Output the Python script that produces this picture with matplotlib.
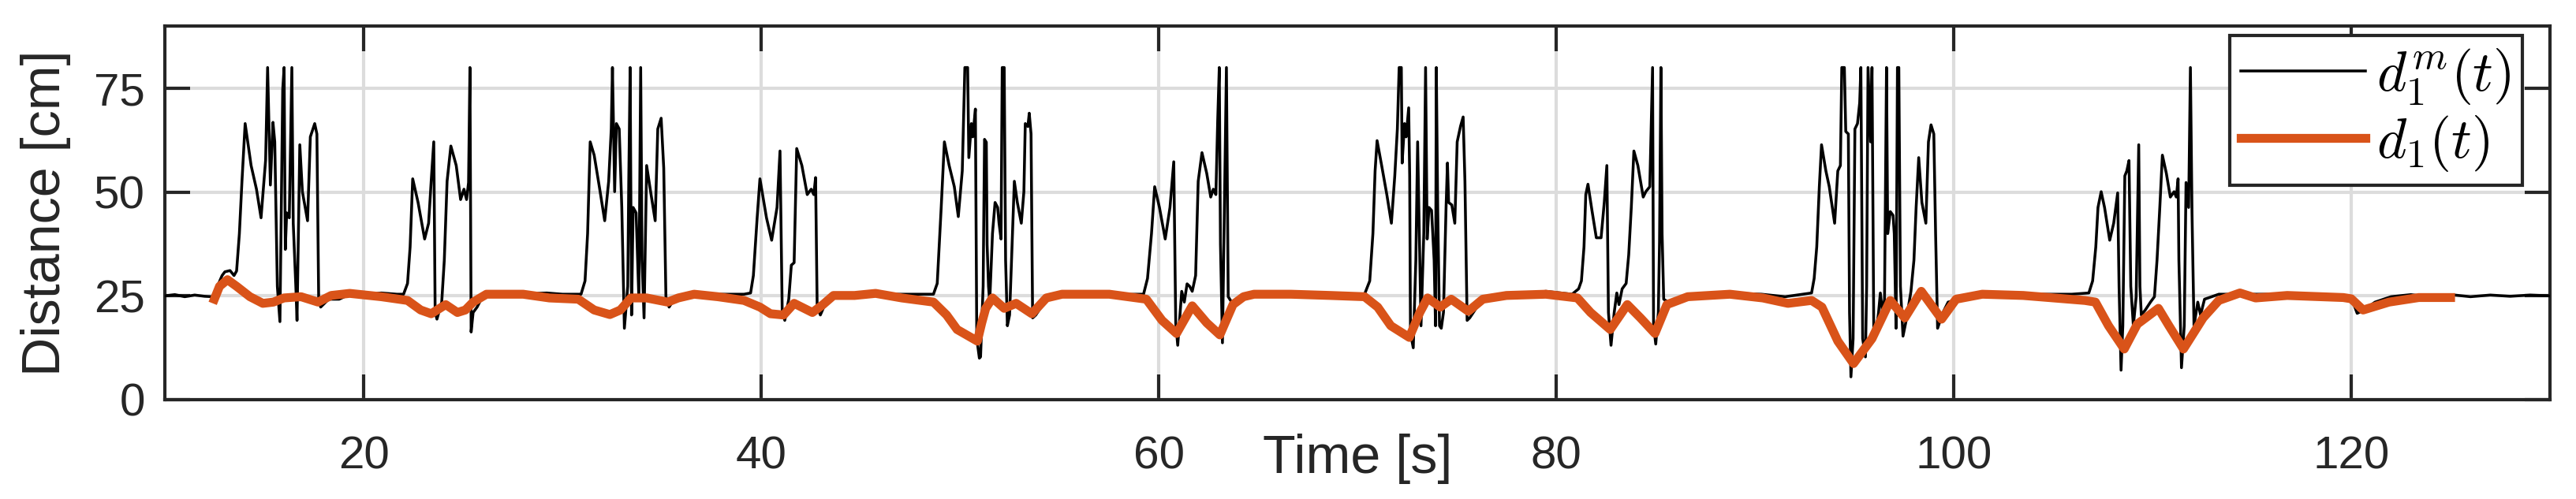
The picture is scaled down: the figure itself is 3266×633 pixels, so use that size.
import matplotlib
matplotlib.use("Agg")
import matplotlib.pyplot as plt

t_meas = [
    10.0, 10.5, 11.0, 11.5, 12.0, 12.42, 12.88, 13.02, 13.28, 13.48, 13.61,
    13.75, 13.88, 14.04, 14.34, 14.61, 14.84, 15.07, 15.17, 15.31, 15.44,
    15.53, 15.66, 15.79, 15.89, 15.93, 16.0, 16.06, 16.13, 16.26, 16.39,
    16.46, 16.59, 16.65, 16.79, 16.92, 17.18, 17.32, 17.54, 17.65, 17.74,
    17.84, 18.24, 18.77, 19.3, 20.1, 20.89, 21.68, 22.01,
    22.21, 22.34, 22.47, 22.74, 23.07, 23.27, 23.4, 23.53, 23.6, 23.69,
    23.93, 24.06, 24.2, 24.39, 24.66, 24.88, 25.05, 25.18, 25.28, 25.35,
    25.41, 25.51, 25.71, 26.04, 27.37, 29.22, 30.01, 30.94,
    31.14, 31.27, 31.4, 31.6, 31.86, 32.13, 32.33, 32.46, 32.52, 32.63,
    32.72, 32.86, 32.99, 33.12, 33.29, 33.34, 33.41, 33.48, 33.56, 33.71,
    33.85, 33.94, 34.01, 34.11, 34.24, 34.44, 34.67, 34.8, 34.97, 35.1,
    35.21, 35.37, 35.7, 36.62, 37.95,
    39.14, 39.47, 39.61, 39.8, 39.94, 40.27, 40.53, 40.8, 40.95, 41.06,
    41.19, 41.39, 41.52, 41.66, 41.79, 42.05, 42.32, 42.52, 42.65, 42.74,
    42.82, 42.98, 43.38, 44.43, 47.08, 48.67,
    48.86, 49.06, 49.22, 49.46, 49.72, 49.92, 50.12, 50.25, 50.39, 50.45,
    50.58, 50.65, 50.78, 50.85, 50.98, 51.04, 51.17, 51.24, 51.33, 51.37,
    51.44, 51.5, 51.64, 51.77, 51.9, 51.97, 52.07, 52.13, 52.23, 52.3,
    52.39, 52.5, 52.6, 52.74, 52.89, 53.09, 53.22, 53.29, 53.42, 53.49,
    53.58, 53.66, 53.82, 54.35, 54.88, 58.85, 59.24,
    59.44, 59.64, 59.8, 60.04, 60.33, 60.57, 60.76, 60.86, 60.96, 61.16,
    61.29, 61.43, 61.56, 61.69, 61.86, 61.99, 62.18, 62.42, 62.62, 62.75,
    62.88, 62.97, 63.05, 63.11, 63.21, 63.41, 63.5, 63.67, 64.14,
    64.8, 69.3, 70.36,
    70.62, 70.78, 70.89, 70.99, 71.22, 71.48, 71.71, 71.88, 72.01, 72.1,
    72.21, 72.25, 72.37, 72.45, 72.58, 72.63, 72.67, 72.81, 72.94, 73.03,
    73.14, 73.2, 73.34, 73.43, 73.51, 73.6, 73.73, 73.86, 73.93, 73.97,
    74.04, 74.13, 74.22, 74.33, 74.46, 74.53, 74.59, 74.75, 74.9, 75.02,
    75.19, 75.32, 75.41, 75.52, 75.65, 76.18, 77.24,
    79.48, 80.8, 81.13, 81.27, 81.4, 81.49, 81.6, 81.8, 82.02, 82.26,
    82.42, 82.55, 82.63, 82.76, 82.92, 83.05, 83.16, 83.32, 83.52, 83.65,
    83.78, 83.91, 84.11, 84.38, 84.51, 84.71, 84.77, 84.85, 84.9, 85.01,
    85.14, 85.2, 85.27, 85.33, 85.41, 85.83, 86.62, 88.34, 90.33,
    91.52, 92.85, 92.98, 93.11, 93.24, 93.35, 93.57, 93.74, 94.01, 94.17,
    94.3, 94.37, 94.5, 94.57, 94.7, 94.76, 94.83, 94.94, 95.03, 95.16,
    95.27, 95.33, 95.42, 95.56, 95.62, 95.69, 95.82, 95.89, 95.98, 96.09,
    96.22, 96.31, 96.42, 96.52, 96.62, 96.68, 96.81, 96.95, 97.01, 97.1,
    97.17, 97.24, 97.32, 97.45, 97.61, 97.85, 98.0, 98.11, 98.24, 98.4,
    98.6, 98.73, 98.86, 99.0, 99.09, 99.19, 99.46, 99.72, 100.78, 102.1,
    103.29, 105.94, 106.8, 106.99, 107.15, 107.26, 107.42, 107.59, 107.85,
    108.05, 108.25, 108.32, 108.42, 108.51, 108.61, 108.71, 108.82, 108.91,
    109.04, 109.18, 109.31, 109.37, 109.44, 109.64, 109.9, 110.1, 110.23,
    110.37, 110.5, 110.7, 110.9, 111.09, 111.2, 111.29, 111.33, 111.46,
    111.6, 111.69, 111.82, 111.91, 111.99, 112.09, 112.28, 112.42, 112.62,
    113.34, 114.53, 116.52,
    118.0, 119.5, 120.0, 120.3, 120.6, 121.2, 122.0, 123.0, 124.0, 125.0,
    126.0, 127.0, 128.0, 129.0, 130.0,
]
d_meas = [
    25.0, 25.3, 24.8, 25.2, 24.9, 24.8, 29.9, 30.8, 31.1, 29.9, 31.0,
    40.0, 52.6, 66.5, 56.4, 50.7, 43.8, 57.7, 80.0, 51.7, 66.8,
    62.1, 27.3, 18.8, 58.9, 74.7, 80.0, 36.2, 45.0, 43.8, 80.0,
    42.5, 27.3, 19.1, 61.4, 50.1, 43.1, 63.3, 66.5, 64.0, 24.2,
    22.3, 24.2, 24.2, 25.4, 25.4, 25.7, 25.4, 25.4,
    28.0, 36.8, 53.2, 47.5, 38.7, 42.5, 52.6, 62.1, 21.0, 19.4,
    23.5, 33.6, 52.6, 61.1, 56.4, 48.2, 50.7, 48.2, 52.3, 80.0,
    16.3, 21.0, 22.3, 25.4, 25.4, 25.7, 25.4, 25.4,
    28.6, 40.0, 62.1, 58.9, 51.3, 43.1, 52.6, 65.2, 80.0, 50.1,
    66.5, 65.2, 46.3, 17.2, 27.3, 52.6, 80.0, 20.4, 46.3, 45.0,
    24.2, 80.0, 33.6, 19.7, 56.4, 50.1, 43.1, 65.2, 67.8, 55.8,
    24.8, 22.3, 24.8, 25.4, 25.4,
    25.4, 25.7, 29.9, 43.8, 53.2, 43.8, 38.4, 46.3, 59.9, 21.6,
    19.1, 24.2, 32.4, 33.0, 60.5, 56.4, 49.4, 50.7, 49.4, 53.5,
    22.3, 20.4, 24.8, 25.4, 25.4, 25.4,
    28.0, 46.3, 62.1, 56.4, 51.3, 44.1, 55.1, 80.0, 80.0, 58.3,
    66.5, 63.3, 70.0, 14.7, 10.0, 10.3, 27.3, 62.7, 62.0, 37.4,
    27.3, 23.5, 40.0, 47.5, 46.3, 42.5, 38.7, 80.0, 80.0, 33.6,
    17.8, 20.4, 33.6, 52.6, 47.5, 42.5, 50.1, 66.5, 65.8, 69.0,
    64.0, 19.7, 20.4, 24.2, 24.8, 25.4, 25.4,
    29.2, 40.0, 51.3, 46.3, 38.7, 46.3, 57.3, 18.5, 13.1, 26.1,
    23.5, 27.9, 27.3, 26.1, 29.9, 52.6, 59.5, 54.5, 48.8, 50.7,
    49.4, 67.1, 80.0, 37.4, 13.7, 80.0, 24.8, 23.5, 24.8,
    25.4, 25.4, 25.4,
    28.6, 40.0, 55.1, 62.4, 56.4, 49.4, 42.5, 53.9, 65.2, 80.0,
    80.0, 57.0, 66.5, 63.3, 70.3, 53.9, 16.0, 12.5, 33.6, 62.1,
    33.6, 17.8, 40.0, 80.0, 38.7, 46.3, 45.6, 33.6, 17.8, 80.0,
    46.3, 17.8, 17.2, 21.0, 46.3, 57.0, 47.5, 46.9, 42.5, 62.1,
    65.9, 68.1, 52.6, 19.1, 19.7, 23.5, 24.8,
    26.1, 25.4, 26.7, 28.6, 36.8, 49.4, 51.9, 45.6, 39.0, 39.0,
    47.5, 56.4, 21.0, 13.1, 21.0, 25.7, 22.9, 26.7, 28.0, 34.9,
    46.3, 59.9, 56.4, 48.8, 50.1, 51.3, 64.0, 80.0, 17.8, 13.4,
    21.0, 38.0, 80.0, 39.9, 24.2, 22.9, 25.4, 25.7, 25.4,
    24.8, 25.7, 29.2, 36.8, 51.3, 61.4, 55.1, 51.3, 42.5, 55.1,
    56.4, 80.0, 80.0, 64.6, 64.0, 21.0, 5.5, 14.7, 65.2, 66.5,
    71.5, 80.0, 14.7, 10.3, 27.3, 80.0, 62.1, 80.0, 16.0, 16.0,
    21.0, 25.7, 21.0, 24.2, 80.0, 40.0, 45.3, 44.4, 40.0, 17.2,
    80.0, 80.0, 27.3, 15.3, 19.1, 26.1, 33.6, 46.3, 58.3, 47.5,
    42.5, 62.1, 66.2, 64.0, 40.0, 17.2, 21.0, 23.5, 24.8, 25.4,
    25.4, 25.4, 25.7, 28.6, 36.8, 46.3, 50.1, 46.3, 38.4,
    42.5, 49.8, 27.3, 7.1, 17.8, 53.9, 55.1, 57.6, 27.3,
    17.8, 24.8, 61.4, 27.3, 20.4, 21.6, 23.5, 24.8, 33.6,
    46.3, 58.9, 54.5, 48.8, 50.1, 48.8, 53.2, 33.6, 7.7,
    17.8, 52.3, 46.3, 80.0, 45.0, 17.8, 23.5, 20.4, 24.2,
    25.4, 25.4, 25.4,
    25.2, 25.0, 24.6, 20.8, 21.5, 23.5, 24.8, 25.3, 24.7, 25.3,
    24.8, 25.2, 24.9, 25.2, 25.0,
]

# estimated distance d_1(t) [cm]
t_est = [
    12.49, 12.75, 13.15, 13.61, 14.28, 14.93, 15.46, 15.99, 16.85, 17.71,
    18.37, 19.3, 20.89, 22.21, 22.87, 23.4, 24.13, 24.72, 25.12, 25.51,
    26.18, 28.03, 29.35, 30.8, 31.6, 32.39, 32.92, 33.45, 34.24, 35.3,
    35.83, 36.63, 37.82, 39.14, 39.94, 40.47, 41.13, 41.66, 42.58, 43.11,
    43.64, 44.7, 45.76, 47.08, 48.67, 49.33, 49.86, 50.88, 51.1, 51.3,
    51.64, 52.23, 52.83, 53.62, 54.35, 55.14, 57.52, 59.38, 60.17, 60.9,
    61.69, 62.42, 63.08, 63.74, 64.27, 64.8, 66.66, 68.64, 70.36, 71.02,
    71.68, 72.61, 73.14, 73.53, 74.17, 74.72, 75.58, 76.31, 77.5, 79.48,
    81.07, 81.73, 82.72, 83.58, 84.24, 84.97, 85.57, 86.62, 88.74, 90.4,
    91.66, 92.85, 93.37, 94.17, 94.96, 95.89, 96.81, 97.54, 98.37, 99.39,
    100.12, 101.44, 103.5, 106.6, 107.13, 107.79, 108.58, 109.24, 110.3,
    110.83, 111.56, 112.55, 113.34, 114.4, 115.19, 116.78, 119.6, 120.0,
    120.6, 121.9, 123.4, 125.0,
]
d_est = [
    24.2, 27.3, 28.9, 27.3, 24.8, 23.2, 23.5, 24.5, 24.8, 23.5,
    25.1, 25.6, 24.8, 23.9, 21.6, 20.7, 22.9, 21.0, 21.6, 23.5,
    25.4, 25.4, 24.5, 24.2, 21.6, 20.5, 21.6, 24.5, 24.5, 23.5,
    24.5, 25.4, 24.8, 23.9, 22.3, 20.7, 20.4, 23.2, 21.0, 22.9,
    25.1, 25.1, 25.6, 24.5, 23.5, 20.4, 16.9, 14.1, 18.5, 22.0,
    24.5, 22.0, 23.2, 20.7, 24.5, 25.4, 25.4, 24.2, 19.1, 15.95,
    22.6, 18.5, 15.6, 22.9, 24.8, 25.4, 25.4, 25.1, 24.8, 22.3,
    17.8, 15.0, 21.0, 24.5, 22.3, 24.2, 21.3, 24.2, 25.1, 25.4,
    24.5, 21.0, 16.9, 22.9, 19.7, 15.95, 22.9, 24.8, 25.4, 24.5,
    23.2, 23.9, 22.3, 14.1, 8.7, 14.7, 23.9, 19.7, 26.1, 19.4,
    24.2, 25.4, 25.1, 23.9, 23.5, 17.8, 12.2, 18.2, 22.0,
    17.8, 12.2, 19.7, 23.9, 25.7, 24.5, 25.1, 24.6, 24.3,
    21.6, 23.5, 24.6, 24.6,
]

x_ticks = [20, 40, 60, 80, 100, 120]
y_ticks = [0, 25, 50, 75]
labels = [r"$d_1^m(t)$", r"$d_1(t)$"]

dark = "#262626"
plt.rcParams["font.family"] = ["Liberation Sans", "DejaVu Sans"]
plt.rcParams["mathtext.fontset"] = "cm"

fig = plt.figure(figsize=(3266 / 300, 633 / 300), dpi=300)
ax = fig.add_axes([209 / 3266, 126 / 633, 3024 / 3266, 474 / 633])

ax.plot(t_meas, d_meas, color="black", lw=0.85, label=labels[0], zorder=3)
ax.plot(t_est, d_est, color="#D95319", lw=2.7, label=labels[1], zorder=4)

ax.set_xlim(10, 130)
ax.set_ylim(0, 90)
ax.set_xticks(x_ticks)
ax.set_yticks(y_ticks)
ax.grid(True, color="#dcdcdc", lw=1.0)
ax.set_axisbelow(True)

ax.tick_params(direction="in", length=7.7, width=1.0, colors=dark,
               labelsize=14, top=True, right=True)
ax.tick_params(axis="x", pad=11)
ax.tick_params(axis="y", pad=6)
for s in ax.spines.values():
    s.set_color(dark)
    s.set_linewidth(1.0)

ax.set_xlabel("Time [s]", fontsize=16.4, color=dark)
ax.xaxis.set_label_coords(0.5, -0.09)
ax.set_ylabel("Distance [cm]", fontsize=16.4, color=dark)
ax.yaxis.set_label_coords(-0.0393, 0.5)

leg = ax.legend(loc="upper right", bbox_to_anchor=(0.9884, 0.9747),
                borderaxespad=0, fontsize=17.2, handlelength=2.2,
                handletextpad=0.2, borderpad=0.2, labelspacing=0.12,
                fancybox=False, framealpha=1, edgecolor=dark)
leg.get_frame().set_linewidth(1.0)

fig.savefig("out.png", dpi=300, facecolor="white")
